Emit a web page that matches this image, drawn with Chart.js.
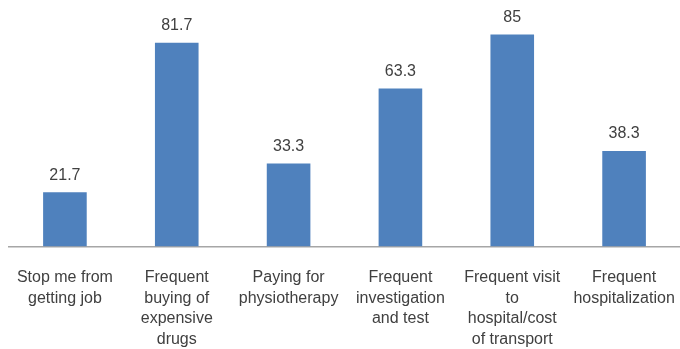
<!DOCTYPE html>
<html>
<head>
<meta charset="utf-8">
<script src="https://cdn.jsdelivr.net/npm/chart.js@4/dist/chart.umd.min.js"></script>
<style>
  html, body { margin: 0; padding: 0; background: #fff; }
  #wrap { width: 680px; height: 349px; position: relative; }
</style>
</head>
<body>
<div id="wrap"><canvas id="c"></canvas></div>
<script>
// Reasons reported as burdens (percent of respondents)
const categories = [
  ["Stop me from", "getting job"],
  ["Frequent", "buying of", "expensive", "drugs"],
  ["Paying for", "physiotherapy"],
  ["Frequent", "investigation", "and test"],
  ["Frequent visit", "to", "hospital/cost", "of transport"],
  ["Frequent", "hospitalization"]
];
const percentages = [21.7, 81.7, 33.3, 63.3, 85, 38.3];
const valueLabels = ["21.7", "81.7", "33.3", "63.3", "85", "38.3"];

const FONT = "'Liberation Sans', Arial, sans-serif";
const TEXT = "#404040";

// Writes each bar's value above it
const barValues = {
  id: "barValues",
  afterDatasetsDraw(chart) {
    const ctx = chart.ctx;
    const meta = chart.getDatasetMeta(0);
    ctx.save();
    ctx.font = "16px " + FONT;
    ctx.fillStyle = TEXT;
    ctx.textAlign = "center";
    ctx.textBaseline = "middle";
    meta.data.forEach((bar, i) => {
      ctx.fillText(valueLabels[i], bar.x, bar.y - 17);
    });
    ctx.restore();
  }
};

new Chart(document.getElementById("c"), {
  type: "bar",
  data: {
    labels: categories,
    datasets: [{
      data: percentages,
      backgroundColor: "#4f81bd",
      borderWidth: 0,
      categoryPercentage: 1,
      barPercentage: 0.39
    }]
  },
  options: {
    responsive: true,
    maintainAspectRatio: false,
    animation: false,
    layout: { padding: { top: 22, left: 9, right: 0, bottom: 0 } },
    plugins: { legend: { display: false }, tooltip: { enabled: false } },
    scales: {
      x: {
        grid: { display: false, drawTicks: false },
        border: { display: true, color: "#a6a6a6", width: 1.5 },
        ticks: {
          color: TEXT,
          font: { family: FONT, size: 16, lineHeight: 1.28 },
          padding: 21,
          maxRotation: 0,
          autoSkip: false
        },
        afterFit(scale) {
          // let the outer labels run to the canvas edge
          scale.height = 102.5;
          scale.paddingLeft = 0;
          scale.paddingRight = 0;
        }
      },
      y: {
        display: false,
        min: 0,
        max: 90
      }
    }
  },
  plugins: [barValues]
});
</script>
</body>
</html>
